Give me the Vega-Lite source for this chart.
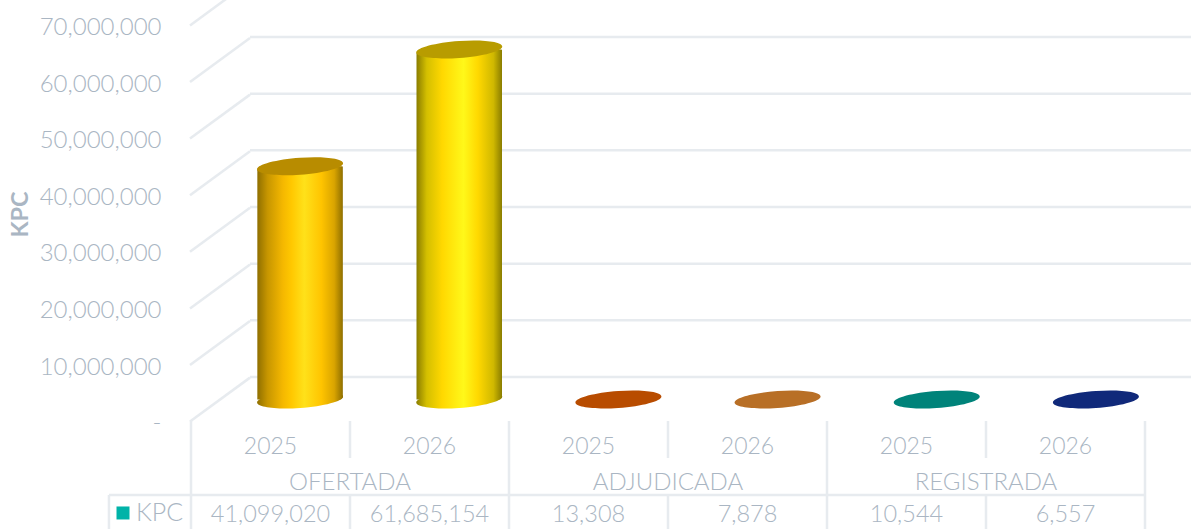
{"$schema":"https://vega.github.io/schema/vega-lite/v6.json","width":1191,"height":529,"padding":0,"autosize":{"type":"none"},"background":"white","config":{"view":{"stroke":null},"font":"Lato"},
"datasets":{
"kpc":[{"estado":"OFERTADA","anio":"2025","cat":"OFERTADA 2025","kpc":41099020},{"estado":"OFERTADA","anio":"2026","cat":"OFERTADA 2026","kpc":61685154},{"estado":"ADJUDICADA","anio":"2025","cat":"ADJUDICADA 2025","kpc":13308},{"estado":"ADJUDICADA","anio":"2026","cat":"ADJUDICADA 2026","kpc":7878},{"estado":"REGISTRADA","anio":"2025","cat":"REGISTRADA 2025","kpc":10544},{"estado":"REGISTRADA","anio":"2026","cat":"REGISTRADA 2026","kpc":6557}],
"ticks":[{"v":0,"v_back":7770000},{"v":10000000,"v_back":17770000},{"v":20000000,"v_back":27770000},{"v":30000000,"v_back":37770000},{"v":40000000,"v_back":47770000},{"v":50000000,"v_back":57770000},{"v":60000000,"v_back":67770000},{"v":70000000,"v_back":77770000}],
"tableV":[{"c":0,"a":0,"b":3},{"c":1,"a":0,"b":1},{"c":1,"a":2,"b":3},{"c":2,"a":0,"b":3},{"c":3,"a":0,"b":1},{"c":3,"a":2,"b":3},{"c":4,"a":0,"b":3},{"c":5,"a":0,"b":1},{"c":5,"a":2,"b":3},{"c":6,"a":0,"b":3},{"c":-0.516,"a":2,"b":3}],
"grupos":[{"estado":"OFERTADA"},{"estado":"ADJUDICADA"},{"estado":"REGISTRADA"}]},
"layer":[
{"data":{"name":"ticks"},"mark":{"type":"rule","color":"#e7ebef","strokeWidth":2.5},"encoding":{"x":{"datum":1,"type":"quantitative","scale":{"domain":[-3.1667,16.683],"range":[0,1191],"nice":false,"zero":false},"axis":null},"x2":{"datum":16.683},"y":{"field":"v","type":"quantitative","scale":{"domain":[-26820000,66530000],"range":[529,0],"nice":false,"zero":false},"axis":null}}},
{"data":{"name":"ticks"},"mark":{"type":"rule","color":"#e7ebef","strokeWidth":2.5},"encoding":{"x":{"datum":0,"type":"quantitative","scale":{"domain":[-3.1667,16.683],"range":[0,1191],"nice":false,"zero":false},"axis":null},"x2":{"datum":1},"y":{"field":"v","type":"quantitative","scale":{"domain":[-18975000,74490000],"range":[529,0],"nice":false,"zero":false},"axis":{"values":[0,10000000,20000000,30000000,40000000,50000000,60000000,70000000],"labelExpr":"datum.value===0?'-':format(datum.value,',')","offset":-161,"labelPadding":0,"labelOffset":2,"ticks":false,"domain":false,"grid":false,"labelFont":"Lato","labelFontWeight":300,"labelFontSize":24,"labelColor":"#aab6c3","labelAlign":"right","labelBaseline":"middle","title":"KPC","titleFont":"Lato","titleFontWeight":"bold","titleFontSize":23.5,"titleColor":"#aab6c3","titleAngle":-90,"titleX":-141,"titleY":214,"titleAlign":"center","titleBaseline":"middle"}},"y2":{"field":"v_back"}}},
{"data":{"name":"tableV"},"mark":{"type":"rule","color":"#e7ebef","strokeWidth":2.5},"encoding":{"x":{"field":"c","type":"quantitative","scale":{"domain":[-1.2013,6.2893],"range":[0,1191],"nice":false,"zero":false},"axis":null},"y":{"field":"a","type":"quantitative","scale":{"domain":[2.919,-11.378],"range":[529,0],"nice":false,"zero":false},"axis":null},"y2":{"field":"b"}}},
{"data":{"values":[{"fila":"KPC"}]},"mark":{"type":"rule","color":"#e7ebef","strokeWidth":2.5},"encoding":{"x":{"datum":-0.516,"type":"quantitative","scale":{"domain":[-1.2013,6.2893],"range":[0,1191],"nice":false,"zero":false},"axis":null},"x2":{"datum":6},"y":{"datum":2,"type":"quantitative","scale":{"domain":[2.919,-11.378],"range":[529,0],"nice":false,"zero":false},"axis":null}}},
{"data":{"name":"kpc"},"transform":[{"filter":"datum.cat==='OFERTADA 2025'"}],"layer":[
{"mark":{"type":"point","filled":true,"opacity":1,"size":7396,"shape":"M1,-.07 C1,.0388 .5523,.1583 0,.197 C-.5523,.2357 -1,.1788 -1,.07 C-1,-.0388 -.5523,-.1583 0,-.197 C.5523,-.2357 1,-.1788 1,-.07 Z","fill":{"gradient":"linear","x1":0,"x2":1,"y1":0,"y2":0,"stops":[{"offset":0,"color":"#8f6f00"},{"offset":0.12,"color":"#c79600"},{"offset":0.3,"color":"#f5b800"},{"offset":0.4,"color":"#ffc800"},{"offset":0.55,"color":"#ffe11a"},{"offset":0.75,"color":"#ffc400"},{"offset":0.9,"color":"#d9a400"},{"offset":1,"color":"#8f6f00"}]}},"encoding":{"x":{"field":"cat","type":"nominal","sort":null,"scale":{"domain":["OFERTADA 2025","OFERTADA 2026","ADJUDICADA 2025","ADJUDICADA 2026","REGISTRADA 2025","REGISTRADA 2026"],"range":[220.5,1175.5],"paddingInner":0,"paddingOuter":0},"axis":null},"y":{"datum":0,"type":"quantitative","scale":{"domain":[-22820000,70410000],"range":[529,0],"nice":false,"zero":false},"axis":null}}},
{"mark":{"type":"bar","width":85.5,"cornerRadiusTopLeft":4,"cornerRadiusTopRight":1,"cornerRadiusBottomRight":3,"fill":{"gradient":"linear","x1":0,"x2":1,"y1":0,"y2":0,"stops":[{"offset":0,"color":"#8f6f00"},{"offset":0.12,"color":"#c79600"},{"offset":0.3,"color":"#f5b800"},{"offset":0.4,"color":"#ffc800"},{"offset":0.55,"color":"#ffe11a"},{"offset":0.75,"color":"#ffc400"},{"offset":0.9,"color":"#d9a400"},{"offset":1,"color":"#8f6f00"}]}},"encoding":{"x":{"field":"cat","type":"nominal","sort":null,"scale":{"domain":["OFERTADA 2025","OFERTADA 2026","ADJUDICADA 2025","ADJUDICADA 2026","REGISTRADA 2025","REGISTRADA 2026"],"range":[220.5,1175.5],"paddingInner":0,"paddingOuter":0},"axis":null},"y":{"field":"kpc","type":"quantitative","stack":null,"scale":{"domain":[-22820000,70410000],"range":[529,0],"nice":false,"zero":false},"axis":null}}}
],"resolve":{"scale":{"x":"shared","y":"shared"}}},
{"data":{"name":"kpc"},"transform":[{"filter":"datum.cat==='OFERTADA 2026'"}],"layer":[
{"mark":{"type":"point","filled":true,"opacity":1,"size":7396,"shape":"M1,-.07 C1,.0388 .5523,.1583 0,.197 C-.5523,.2357 -1,.1788 -1,.07 C-1,-.0388 -.5523,-.1583 0,-.197 C.5523,-.2357 1,-.1788 1,-.07 Z","fill":{"gradient":"linear","x1":0,"x2":1,"y1":0,"y2":0,"stops":[{"offset":0,"color":"#8a7d00"},{"offset":0.12,"color":"#d4bf00"},{"offset":0.3,"color":"#ffd800"},{"offset":0.55,"color":"#fff81a"},{"offset":0.72,"color":"#ffd800"},{"offset":0.9,"color":"#cfb800"},{"offset":1,"color":"#8a7d00"}]}},"encoding":{"x":{"field":"cat","type":"nominal","sort":null,"scale":{"domain":["OFERTADA 2025","OFERTADA 2026","ADJUDICADA 2025","ADJUDICADA 2026","REGISTRADA 2025","REGISTRADA 2026"],"range":[220.5,1175.5],"paddingInner":0,"paddingOuter":0},"axis":null},"y":{"datum":0,"type":"quantitative","scale":{"domain":[-22820000,70410000],"range":[529,0],"nice":false,"zero":false},"axis":null}}},
{"mark":{"type":"bar","width":85.5,"cornerRadiusTopLeft":4,"cornerRadiusTopRight":1,"cornerRadiusBottomRight":3,"fill":{"gradient":"linear","x1":0,"x2":1,"y1":0,"y2":0,"stops":[{"offset":0,"color":"#8a7d00"},{"offset":0.12,"color":"#d4bf00"},{"offset":0.3,"color":"#ffd800"},{"offset":0.55,"color":"#fff81a"},{"offset":0.72,"color":"#ffd800"},{"offset":0.9,"color":"#cfb800"},{"offset":1,"color":"#8a7d00"}]}},"encoding":{"x":{"field":"cat","type":"nominal","sort":null,"scale":{"domain":["OFERTADA 2025","OFERTADA 2026","ADJUDICADA 2025","ADJUDICADA 2026","REGISTRADA 2025","REGISTRADA 2026"],"range":[220.5,1175.5],"paddingInner":0,"paddingOuter":0},"axis":null},"y":{"field":"kpc","type":"quantitative","stack":null,"scale":{"domain":[-22820000,70410000],"range":[529,0],"nice":false,"zero":false},"axis":null}}}
],"resolve":{"scale":{"x":"shared","y":"shared"}}},
{"data":{"name":"kpc"},"mark":{"type":"point","filled":true,"opacity":1,"size":7396,"shape":"M1,-.07 C1,.0388 .5523,.1583 0,.197 C-.5523,.2357 -1,.1788 -1,.07 C-1,-.0388 -.5523,-.1583 0,-.197 C.5523,-.2357 1,-.1788 1,-.07 Z"},"encoding":{"x":{"field":"cat","type":"nominal","sort":null,"scale":{"domain":["OFERTADA 2025","OFERTADA 2026","ADJUDICADA 2025","ADJUDICADA 2026","REGISTRADA 2025","REGISTRADA 2026"],"range":[220.5,1175.5],"paddingInner":0,"paddingOuter":0},"axis":null},"y":{"field":"kpc","type":"quantitative","scale":{"domain":[-22820000,70410000],"range":[529,0],"nice":false,"zero":false},"axis":null},"fill":{"field":"cat","type":"nominal","scale":{"domain":["OFERTADA 2025","OFERTADA 2026","ADJUDICADA 2025","ADJUDICADA 2026","REGISTRADA 2025","REGISTRADA 2026"],"range":["#b88c00","#b89c00","#b84c00","#b86f26","#00837a","#10297a"]},"legend":null}}},
{"data":{"name":"kpc"},"mark":{"type":"text","font":"Lato","fontWeight":300,"fontSize":23,"color":"#aab6c3","align":"center","baseline":"middle"},"encoding":{"x":{"field":"cat","type":"nominal","sort":null,"scale":{"domain":["OFERTADA 2025","OFERTADA 2026","ADJUDICADA 2025","ADJUDICADA 2026","REGISTRADA 2025","REGISTRADA 2026"],"range":[191,1145],"paddingInner":0,"paddingOuter":0},"axis":null},"y":{"datum":0.71,"type":"quantitative","scale":{"domain":[2.919,-11.378],"range":[529,0],"nice":false,"zero":false},"axis":null},"text":{"field":"anio"}}},
{"data":{"name":"kpc"},"mark":{"type":"text","font":"Lato","fontWeight":300,"fontSize":23.5,"color":"#aab6c3","align":"center","baseline":"middle"},"encoding":{"x":{"field":"cat","type":"nominal","sort":null,"scale":{"domain":["OFERTADA 2025","OFERTADA 2026","ADJUDICADA 2025","ADJUDICADA 2026","REGISTRADA 2025","REGISTRADA 2026"],"range":[191,1145],"paddingInner":0,"paddingOuter":0},"axis":null},"y":{"datum":2.53,"type":"quantitative","scale":{"domain":[2.919,-11.378],"range":[529,0],"nice":false,"zero":false},"axis":null},"text":{"field":"kpc","type":"quantitative","format":","}}},
{"data":{"name":"grupos"},"mark":{"type":"text","font":"Lato","fontWeight":300,"fontSize":24,"color":"#aab6c3","align":"center","baseline":"middle"},"encoding":{"x":{"field":"estado","type":"nominal","sort":null,"scale":{"domain":["OFERTADA","ADJUDICADA","REGISTRADA"],"range":[191,1145],"paddingInner":0,"paddingOuter":0},"axis":null},"y":{"datum":1.67,"type":"quantitative","scale":{"domain":[2.919,-11.378],"range":[529,0],"nice":false,"zero":false},"axis":null},"text":{"field":"estado"}}},
{"data":{"values":[{"serie":"KPC"}]},"mark":{"type":"point","shape":"square","filled":true,"opacity":1,"size":169,"color":"#00b3a8"},"encoding":{"x":{"datum":-0.4277,"type":"quantitative","scale":{"domain":[-1.2013,6.2893],"range":[0,1191],"nice":false,"zero":false},"axis":null},"y":{"datum":2.486,"type":"quantitative","scale":{"domain":[2.919,-11.378],"range":[529,0],"nice":false,"zero":false},"axis":null}}},
{"data":{"values":[{"serie":"KPC"}]},"mark":{"type":"text","font":"Lato","fontWeight":300,"fontSize":25,"color":"#aab6c3","align":"left","baseline":"middle"},"encoding":{"x":{"datum":-0.346,"type":"quantitative","scale":{"domain":[-1.2013,6.2893],"range":[0,1191],"nice":false,"zero":false},"axis":null},"y":{"datum":2.5,"type":"quantitative","scale":{"domain":[2.919,-11.378],"range":[529,0],"nice":false,"zero":false},"axis":null},"text":{"field":"serie"}}}
],"resolve":{"scale":{"x":"independent","y":"independent","fill":"independent"}}}
